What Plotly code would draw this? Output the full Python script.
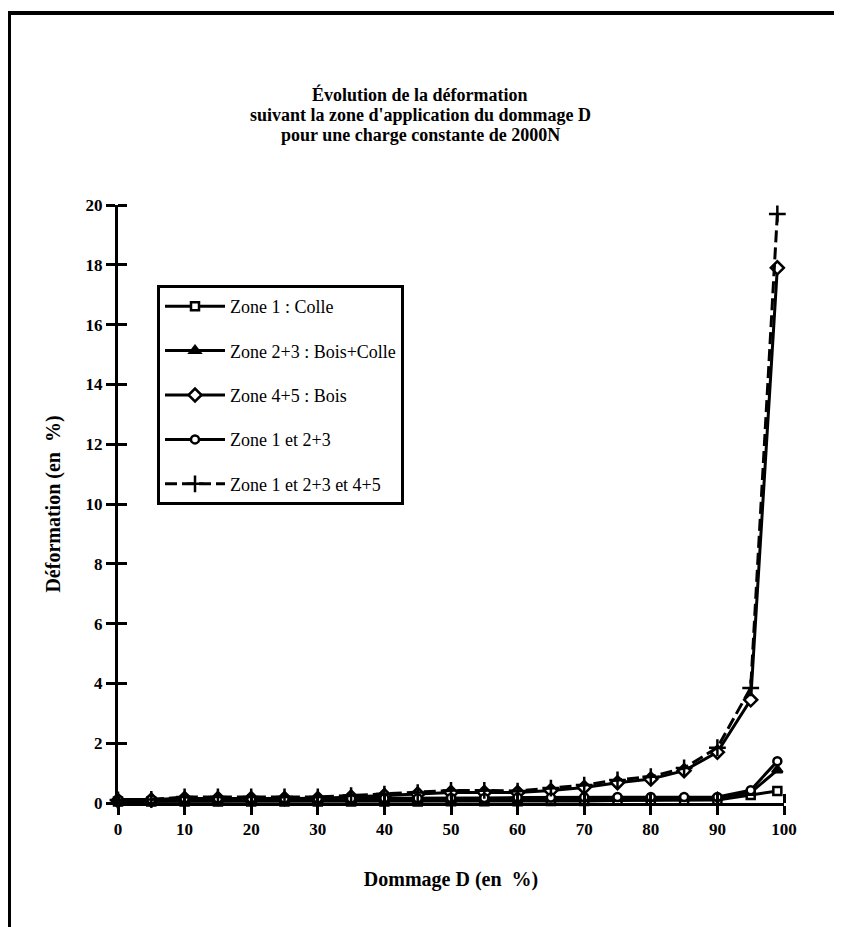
import plotly.graph_objects as go

# Dommage D (en %) et déformation (en %) par zone
dommage = [0, 5, 10, 15, 20, 25, 30, 35, 40, 45, 50, 55, 60, 65, 70, 75, 80, 85, 90, 95, 99]
zone1_colle = [0.05, 0.05, 0.05, 0.05, 0.05, 0.05, 0.05, 0.05, 0.05, 0.05, 0.06,
               0.06, 0.06, 0.07, 0.07, 0.08, 0.08, 0.09, 0.1, 0.27, 0.4]
zone23_bois_colle = [0.1, 0.1, 0.1, 0.1, 0.1, 0.1, 0.1, 0.1, 0.1, 0.11, 0.11,
                     0.12, 0.12, 0.13, 0.14, 0.15, 0.15, 0.16, 0.18, 0.35, 1.1]
zone45_bois = [0.08, 0.1, 0.15, 0.15, 0.15, 0.15, 0.15, 0.2, 0.25, 0.3, 0.35,
               0.35, 0.35, 0.42, 0.52, 0.68, 0.8, 1.08, 1.7, 3.45, 17.9]
zone1_23 = [0.12, 0.12, 0.15, 0.15, 0.15, 0.15, 0.15, 0.15, 0.16, 0.16, 0.17,
            0.17, 0.18, 0.18, 0.19, 0.2, 0.2, 0.2, 0.2, 0.43, 1.4]
zone_all = [0.1, 0.12, 0.2, 0.2, 0.2, 0.2, 0.2, 0.25, 0.3, 0.35, 0.42,
            0.42, 0.4, 0.5, 0.6, 0.77, 0.88, 1.17, 1.85, 3.85, 19.7]

x_ticks = [0, 10, 20, 30, 40, 50, 60, 70, 80, 90, 100]
y_ticks = [0, 2, 4, 6, 8, 10, 12, 14, 16, 18, 20]

title_lines = [
    "Évolution de la déformation",
    "suivant la zone d'application du dommage D",
    "pour une charge constante de 2000N",
]

series = [
    ("Zone 1 : Colle", zone1_colle, "square", "white", 8, "solid"),
    ("Zone 2+3 : Bois+Colle", zone23_bois_colle, "triangle-up", "black", 9, "solid"),
    ("Zone 4+5 : Bois", zone45_bois, "diamond", "white", 10, "solid"),
    ("Zone 1 et 2+3", zone1_23, "circle", "white", 8, "solid"),
    ("Zone 1 et 2+3 et 4+5", zone_all, "cross-thin", "black", 12, "12px,5px"),
]

FONT = "Liberation Serif"
OFF = 8  # page body margin

fig = go.Figure()
for i, (name, vals, sym, fill, size, dash) in enumerate(series):
    fig.add_trace(
        go.Scatter(
            x=dommage,
            y=vals,
            name=name,
            legendgroup=str(i),
            mode="lines+markers",
            line=dict(color="black", width=3, dash=dash),
            marker=dict(symbol=sym, size=size, color=fill,
                        line=dict(color="black", width=2.5)),
            cliponaxis=False,
        )
    )

# plot area in page pixels: x 118..784, y 205..803
FW, FH = 842 - OFF, 927 - OFF
L, T = 118 - OFF, 205 - OFF
R, B = 842 - 784, 927 - 803
W, H = FW - L - R, FH - T - B


def px(x):
    return (x - OFF - L) / W


def py(y):
    return (FH - B - (y - OFF)) / H


tickfont = dict(family=FONT, size=17, color="black", weight="bold")
titlefont = dict(family=FONT, size=20, color="black", weight="bold")


def axis(vals, rng, title, standoff):
    # major ticks outside, minor ticks inside at the same place -> crossing ticks
    return dict(
        range=rng, tickvals=vals, title=dict(text=title, standoff=standoff, font=titlefont),
        showgrid=False, zeroline=False, showline=True, linecolor="black", linewidth=3,
        ticks="outside", ticklen=9, tickwidth=3, tickcolor="black", tickfont=tickfont,
        minor=dict(tickvals=[v + 1e-6 for v in vals], ticks="inside", ticklen=9,
                   tickwidth=3, tickcolor="black", showgrid=False),
    )


fig.update_layout(
    width=FW,
    height=FH,
    autosize=False,
    paper_bgcolor="white",
    plot_bgcolor="white",
    margin=dict(l=L, r=R, t=T, b=B),
    xaxis=axis(x_ticks, [0, 100], "Dommage D (en\u00a0 %)", 34),
    yaxis=axis(y_ticks, [0, 20], "Déformation (en\u00a0 %)", 20),
    showlegend=True,
    legend=dict(
        x=px(157), y=py(285), xanchor="left", yanchor="top",
        bordercolor="black", borderwidth=3, bgcolor="white",
        font=dict(family=FONT, size=18, color="black"),
        itemwidth=60, tracegroupgap=18,
    ),
    shapes=[
        dict(type="line", xref="paper", yref="paper", x0=px(OFF), x1=px(842),
             y0=py(13), y1=py(13), line=dict(color="black", width=4)),
        dict(type="line", xref="paper", yref="paper", x0=px(OFF + 1), x1=px(OFF + 1),
             y0=py(13), y1=py(927), line=dict(color="black", width=4)),
    ],
)

for line, ypix in zip(title_lines, [95, 115, 135]):
    fig.add_annotation(
        text=line, xref="paper", yref="paper", x=px(420), y=py(ypix),
        xanchor="center", yanchor="middle", showarrow=False,
        font=dict(family=FONT, size=18, color="black", weight="bold"),
    )

fig.write_html("out.html")
